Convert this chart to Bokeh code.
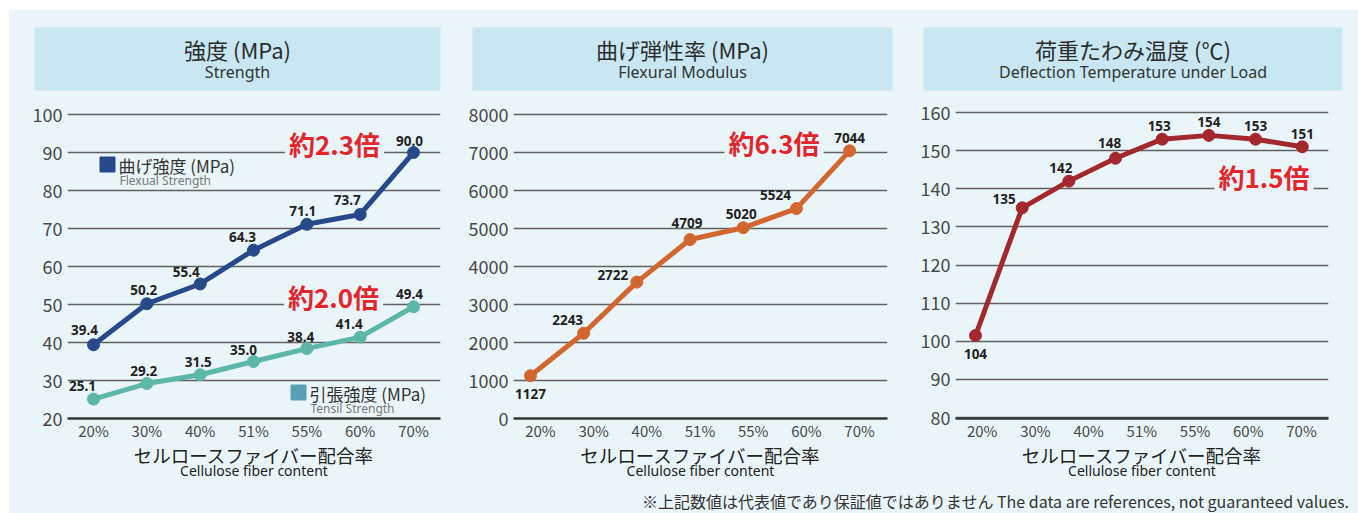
import numpy as np
from bokeh.plotting import figure
from bokeh.models import Range1d, FixedTicker, LinearAxis, Label, ColumnDataSource, Spacer
from bokeh.layouts import row, column
from bokeh.embed import file_html
from bokeh.resources import INLINE
from bokeh.core.properties import value

# ---------------- data ----------------
categories = ["20%", "30%", "40%", "51%", "55%", "60%", "70%"]

flex_strength = [39.4, 50.2, 55.4, 64.3, 71.1, 73.7, 90.0]
tensile_strength = [25.1, 29.2, 31.5, 35.0, 38.4, 41.4, 49.4]

flex_modulus_plotted = [1127, 2243, 3590, 4709, 5020, 5524, 7044]
flex_modulus_labels = ["1127", "2243", "2722", "4709", "5020", "5524", "7044"]

dtul_plotted = [101.5, 135, 142, 148, 153, 154, 153, 151]
dtul_labels = ["104", "135", "142", "148", "153", "154", "153", "151"]

strength_ticks = [20, 30, 40, 50, 60, 70, 80, 90, 100]
modulus_ticks = [0, 1000, 2000, 3000, 4000, 5000, 6000, 7000, 8000]
dtul_ticks = [80, 90, 100, 110, 120, 130, 140, 150, 160]

ratio_texts = ["約2.3倍", "約2.0倍", "約6.3倍", "約1.5倍"]

# ---------------- styles ----------------
PANEL = "#eaf5fa"
HEAD = "#c9e7f2"
JP = "Noto Sans CJK JP"
LAT = "Noto Sans"
BLUE = "#27498a"
TEAL = "#5db7a8"
TEAL_KEY = "#5a9fb4"
ORANGE = "#d2662f"
DRED = "#a3282e"
RED = "#e3262c"
GRID = "#606060"

# label offsets in screen px (dx, dy; dy positive = downward)
flex_off = [(-9, -15), (-3, -14), (-14, -12), (-11, -13), (-4, -13), (-13, -14), (-4, -12)]
tens_off = [(-11, -13), (-3, -13), (-2, -13), (-10, -12), (-6, -12), (-11, -13), (-4, -13)]
mod_off = [(0, 18), (-16, -13), (-24, -7), (-3, -17), (-2, -14), (-21, -14), (0, -13)]
dtul_off = [(0, 18), (-18, -9), (-8, -13), (-6, -15), (-3, -13), (0, -13), (0, -13), (0, -13)]

TOP = 10      # page y where the panel starts
LEFT = 9      # page x where the panel starts
HEAD_BOTTOM = 100
CHART_BOTTOM = 488
PAGE_BOTTOM = 513


def header(w, left, right, jp, en):
    fw = w - left - right
    p = figure(width=w, height=HEAD_BOTTOM - TOP, output_backend="svg", toolbar_location=None,
               x_range=Range1d(0, fw), y_range=Range1d(0, 63),
               min_border_left=left, min_border_right=right,
               min_border_top=27 - TOP, min_border_bottom=HEAD_BOTTOM - 90,
               x_axis_location=None, y_axis_location=None)
    p.background_fill_color = HEAD
    p.border_fill_color = PANEL
    p.outline_line_color = None
    p.grid.visible = False
    p.add_layout(Label(x=fw / 2, y=42, text=jp, text_align="center", text_baseline="middle",
                       text_font=JP, text_font_size="22px", text_color="#2b2b2b"))
    p.add_layout(Label(x=fw / 2, y=19, text=en, text_align="center", text_baseline="middle",
                       text_font=LAT, text_font_size="16px", text_color="#333333"))
    return p


class Geo:
    def __init__(self, page_x0, w, fl, fr, ft, fb, xr, yr):
        self.page_x0, self.w = page_x0, w
        self.fl, self.fr, self.ft, self.fb = fl, fr, ft, fb
        self.xr, self.yr = xr, yr
        self.pxx = (fr - fl) / (xr[1] - xr[0])
        self.pxy = (fb - ft) / (yr[1] - yr[0])

    def data(self, px, py):
        return (self.xr[0] + (px - self.fl) / self.pxx,
                self.yr[1] - (py - self.ft) / self.pxy)


def chart(g, yticks):
    p = figure(width=g.w, height=CHART_BOTTOM - HEAD_BOTTOM, output_backend="svg",
               toolbar_location=None,
               x_range=Range1d(*g.xr), y_range=Range1d(*g.yr),
               min_border_left=g.fl - g.page_x0,
               min_border_right=g.page_x0 + g.w - g.fr,
               min_border_top=g.ft - HEAD_BOTTOM, min_border_bottom=CHART_BOTTOM - g.fb)
    p.background_fill_color = PANEL
    p.border_fill_color = PANEL
    p.outline_line_color = None
    p.xgrid.visible = False
    p.yaxis.ticker = FixedTicker(ticks=yticks)
    p.yaxis.axis_line_color = None
    p.yaxis.major_tick_line_color = None
    p.yaxis.minor_tick_line_color = None
    p.yaxis.major_tick_out = 0
    p.yaxis.minor_tick_out = 0
    p.yaxis.major_label_text_font = JP
    p.yaxis.major_label_text_font_size = "18px"
    p.yaxis.major_label_text_color = "#484848"
    p.yaxis.major_label_standoff = 5
    p.ygrid.grid_line_color = GRID
    p.ygrid.grid_line_width = 1.6

    p.xaxis.ticker = FixedTicker(ticks=list(range(len(categories))))
    p.xaxis.major_label_overrides = {i: c for i, c in enumerate(categories)}
    p.xaxis.major_tick_line_color = None
    p.xaxis.minor_tick_line_color = None
    p.xaxis.major_tick_out = 0
    p.xaxis.minor_tick_out = 0
    p.xaxis.axis_line_color = "#333333"
    p.xaxis.axis_line_width = 2.4
    p.xaxis.major_label_text_font = JP
    p.xaxis.major_label_text_font_size = "15px"
    p.xaxis.major_label_text_color = "#484848"
    p.xaxis.major_label_standoff = 1
    p.xaxis.axis_label = "セルロースファイバー配合率"
    p.xaxis.axis_label_text_font = JP
    p.xaxis.axis_label_text_font_size = "18.5px"
    p.xaxis.axis_label_text_font_style = "normal"
    p.xaxis.axis_label_text_color = "#222222"
    p.xaxis.axis_label_standoff = -2

    ax2 = LinearAxis(ticker=FixedTicker(ticks=[]), axis_label="Cellulose fiber content",
                     axis_line_color=None, major_tick_line_color=None,
                     minor_tick_line_color=None, major_tick_out=0, minor_tick_out=0,
                     major_label_standoff=0,
                     axis_label_standoff=-10, axis_label_text_font=LAT,
                     axis_label_text_font_size="14px", axis_label_text_font_style="normal",
                     axis_label_text_color="#222222")
    p.add_layout(ax2, "below")
    return p


def series(p, g, xs, ys, labels, offs, color):
    p.line(xs, ys, line_color=color, line_width=5, line_join="round")
    p.scatter(xs, ys, size=12, marker="circle", fill_color=color, line_color=color)
    lx = [x + dx / g.pxx for x, (dx, dy) in zip(xs, offs)]
    ly = [y - dy / g.pxy for y, (dx, dy) in zip(ys, offs)]
    src = ColumnDataSource(dict(x=lx, y=ly, t=labels))
    p.text("x", "y", text="t", source=src, text_font=value(LAT), text_font_style="bold",
           text_font_size="13.5px", text_color="#222222", text_align="center",
           text_baseline="middle")


def ratio(p, g, px, py, txt):
    x, y = g.data(px, py)
    p.add_layout(Label(x=x, y=y, text=txt, text_align="center", text_baseline="middle",
                       text_font=JP, text_font_size="26px", text_font_style="bold",
                       text_color=RED, background_fill_color=PANEL, padding=4))


def key(p, g, px, py, color, jp, en):
    x, y = g.data(px, py)
    p.scatter([x], [y], marker="square", size=15, fill_color=color, line_color=color)
    tx, ty = g.data(px + 11, py + 1)
    p.add_layout(Label(x=tx, y=ty, text=jp, text_align="left", text_baseline="middle",
                       text_font=JP, text_font_size="17px", text_color="#333333"))
    ex, ey = g.data(px + 12, py + 16)
    p.add_layout(Label(x=ex, y=ey, text=en, text_align="left", text_baseline="middle",
                       text_font=LAT, text_font_size="12px", text_color="#777777"))


# ---------------- panel 1 ----------------
g1 = Geo(LEFT, 447, 67, 440, 102, 418, (-0.4875, 6.506), (20, 100 + 12 * 80 / 304))
h1 = header(447, 34 - LEFT, 16, "強度 (MPa)", "Strength")
c1 = chart(g1, strength_ticks)
xs1 = list(range(len(categories)))
series(c1, g1, xs1, flex_strength, [f"{v:.1f}" for v in flex_strength], flex_off, BLUE)
series(c1, g1, xs1, tensile_strength, [f"{v:.1f}" for v in tensile_strength], tens_off, TEAL)
ratio(c1, g1, 334, 143, ratio_texts[0])
ratio(c1, g1, 333, 296, ratio_texts[1])
key(c1, g1, 107, 164, BLUE, "曲げ強度 (MPa)", "Flexual Strength")
key(c1, g1, 298, 392, TEAL_KEY, "引張強度 (MPa)", "Tensil Strength")

# ---------------- panel 2 ----------------
g2 = Geo(456, 451, 513, 887, 102, 418, (-0.506, 6.525), (0, 8000 + 12 * 8000 / 304))
h2 = header(451, 16, 15, "曲げ弾性率 (MPa)", "Flexural Modulus")
c2 = chart(g2, modulus_ticks)
xs2 = [i - 0.1875 for i in range(len(categories))]
series(c2, g2, xs2, flex_modulus_plotted, flex_modulus_labels, mod_off, ORANGE)
ratio(c2, g2, 773.5, 142, ratio_texts[2])

# ---------------- panel 3 ----------------
g3 = Geo(907, 451, 955, 1328, 102, 418, (-0.502, 6.508),
         (80 - 1 * 80 / 305, 160 + 10 * 80 / 305))
h3 = header(451, 16, 16, "荷重たわみ温度 (℃)", "Deflection Temperature under Load")
c3 = chart(g3, dtul_ticks)
xs3 = list(np.linspace(-0.126, 6.015, len(dtul_plotted)))
series(c3, g3, xs3, dtul_plotted, dtul_labels, dtul_off, DRED)
ratio(c3, g3, 1263.5, 176, ratio_texts[3])

# ---------------- footer ----------------
FW = 1358 - LEFT
foot = figure(width=FW, height=PAGE_BOTTOM - CHART_BOTTOM, output_backend="svg",
              toolbar_location=None,
              x_range=Range1d(0, FW), y_range=Range1d(0, PAGE_BOTTOM - CHART_BOTTOM),
              min_border_left=0, min_border_right=0, min_border_top=0, min_border_bottom=0,
              x_axis_location=None, y_axis_location=None)
foot.background_fill_color = PANEL
foot.border_fill_color = PANEL
foot.outline_line_color = None
foot.grid.visible = False
foot.add_layout(Label(x=1349 - LEFT, y=PAGE_BOTTOM - 500,
                      text="※上記数値は代表値であり保証値ではありません The data are references, not guaranteed values.",
                      text_align="right", text_baseline="middle", text_font=JP,
                      text_font_size="16px", text_color="#333333"))

bg = {"background-color": PANEL}
main = column(row(h1, h2, h3, styles=bg), row(c1, c2, c3, styles=bg), foot, styles=bg)
layout = column(Spacer(width=1358, height=TOP), row(Spacer(width=LEFT, height=PAGE_BOTTOM - TOP), main))

open("out.html", "w").write(file_html(layout, INLINE))
